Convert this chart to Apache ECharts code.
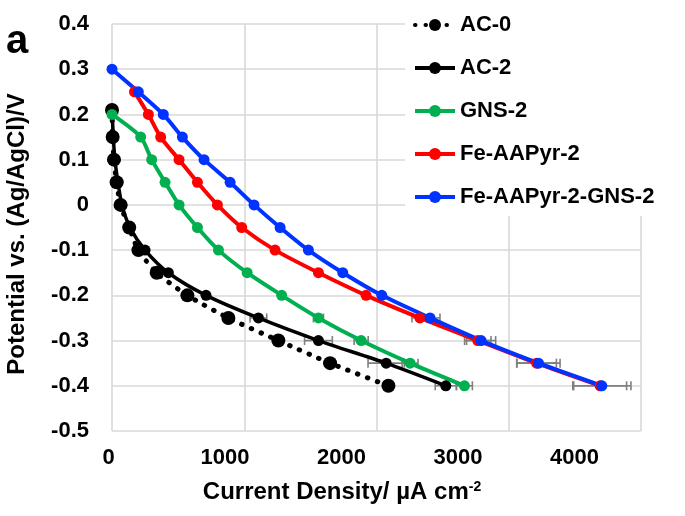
<!DOCTYPE html>
<html><head><meta charset="utf-8">
<script src="https://cdn.jsdelivr.net/npm/echarts@6/dist/echarts.min.js"></script>
<style>html,body{margin:0;padding:0;background:#fff}#c{width:685px;height:516px}</style>
</head><body><div id="c"></div>
<script>
// ---- data ----
const potBlue = [0.3,0.25,0.2,0.15,0.1,0.05,0,-0.05,-0.1,-0.15,-0.2,-0.25,-0.3,-0.35,-0.4];
const curBlue = [0,199,388,532,696,893,1074,1271,1485,1745,2040,2405,2791,3225,3704];
const errBlue = [0,0,0,0,0,0,0,0,0,0,0,75,110,163,220];

const potRed = [0.25,0.2,0.15,0.1,0.05,0,-0.05,-0.1,-0.15,-0.2,-0.25,-0.3,-0.35,-0.4];
const curRed = [170,275,368,507,646,797,981,1233,1561,1921,2328,2766,3210,3691];
const errRed = [0,0,0,0,0,0,0,0,0,0,60,100,150,200];

const potGreen = [0.2,0.15,0.1,0.05,0,-0.05,-0.1,-0.15,-0.2,-0.25,-0.3,-0.35,-0.4];
const curGreen = [0,217,300,401,507,646,805,1022,1283,1561,1884,2254,2665];
const errGreen = [0,0,0,0,0,0,0,0,0,38,53,60,60];

const potAC2 = [0.21,0.15,0.1,0.05,0,-0.05,-0.1,-0.15,-0.2,-0.25,-0.3,-0.35,-0.4];
const curAC2 = [0,10,22,45,75,136,250,426,711,1107,1561,2073,2524];
const errAC2 = [0,0,0,0,0,0,0,0,0,63,105,137,80];

const potAC0 = [0.21,0.15,0.1,0.05,0,-0.05,-0.1,-0.15,-0.2,-0.25,-0.3,-0.35,-0.4];
const curAC0 = [0,5,15,35,65,130,200,338,570,880,1258,1649,2090];

const seriesNames = ['AC-0','AC-2','GNS-2','Fe-AAPyr-2','Fe-AAPyr-2-GNS-2'];
const yTicks = {min:-0.5, max:0.4, interval:0.1};
const xTicks = {min:0, max:4000, interval:1000};

// ---- build ----
const zip = (xs, ys) => xs.map((x,i)=>[x, ys[i]]);
const zipErr = (xs, ys, es) => xs.map((x,i)=>[x, ys[i], es[i]]).filter(d=>d[2]>0);
const FONT = '"Liberation Sans", Arial, sans-serif';
const chart = echarts.init(document.getElementById('c'), null, {renderer:'canvas'});

function errSeries(data){
  return {
    type:'custom', xAxisIndex:0, yAxisIndex:0, z:1, silent:true,
    data:data,
    renderItem:function(params, api){
      const x = api.value(0), y = api.value(1), e = api.value(2);
      const p1 = api.coord([x-e, y]), p2 = api.coord([x+e, y]);
      const st = {stroke:'#7f7f7f', lineWidth:1.6};
      return {type:'group', children:[
        {type:'line', shape:{x1:p1[0],y1:p1[1],x2:p2[0],y2:p2[1]}, style:st},
        {type:'line', shape:{x1:p1[0],y1:p1[1]-4.5,x2:p1[0],y2:p1[1]+4.5}, style:st},
        {type:'line', shape:{x1:p2[0],y1:p2[1]-4.5,x2:p2[0],y2:p2[1]+4.5}, style:st}
      ]};
    }
  };
}

function lineSeries(name, data, color, sym, width, dotted){
  return {
    name:name, type:'line', data:data, xAxisIndex:0, yAxisIndex:0, z:3,
    symbol:'circle', symbolSize:sym, smooth:0.25,
    itemStyle:{color:color},
    lineStyle:dotted ? {color:color, width:width, type:[0.5,10], cap:'round'} : {color:color, width:width},
    emphasis:{disabled:true}
  };
}

const option = {
  animation:false,
  backgroundColor:'#fff',
  grid:[
    {left:112, right:44, top:24, bottom:85, containLabel:false},
    {left:108.5, right:110.5, top:24, bottom:85, containLabel:false}
  ],
  xAxis:[
    {type:'value', gridIndex:0, min:xTicks.min, max:xTicks.max, interval:xTicks.interval,
     axisLine:{show:false}, axisTick:{show:false}, axisLabel:{show:false},
     splitLine:{show:true, lineStyle:{color:'#d9d9d9', width:1.6}}},
    {type:'value', gridIndex:1, min:xTicks.min, max:xTicks.max, interval:xTicks.interval,
     axisLine:{show:false}, axisTick:{show:false}, splitLine:{show:false},
     axisLabel:{show:true, margin:16, fontFamily:FONT, fontWeight:'bold', fontSize:22, color:'#000',
                formatter:function(v){return String(v);}}}
  ],
  yAxis:[
    {type:'value', gridIndex:0, min:yTicks.min, max:yTicks.max, interval:yTicks.interval,
     axisLine:{show:false}, axisTick:{show:false},
     axisLabel:{margin:23, fontFamily:FONT, fontWeight:'bold', fontSize:22, color:'#000'},
     splitLine:{show:true, lineStyle:{color:'#d9d9d9', width:1.6}}},
    {type:'value', gridIndex:1, min:yTicks.min, max:yTicks.max, show:false}
  ],
  legend:{
    data:seriesNames, orient:'vertical', left:405, top:0,
    padding:[14,26,8,8], backgroundColor:'#fff', z:10,
    itemWidth:40, itemHeight:15, itemGap:21, itemStyle:{borderWidth:0},
    lineStyle:{width:4},
    textStyle:{fontFamily:FONT, fontWeight:'bold', fontSize:22, color:'#000', lineHeight:22},
    selectedMode:false
  },
  graphic:[
    {type:'text', left:6, top:22, style:{text:'a', font:'bold 40px '+FONT, fill:'#000'}},
    {type:'text', x:17.5, y:234, rotation:Math.PI/2,
     style:{text:'Potential vs. (Ag/AgCl)/V', font:'bold 24px '+FONT, fill:'#000', align:'center', verticalAlign:'middle'}},
    {type:'text', x:342, y:492,
     style:{text:'Current Density/ µA cm{sup|-2}', font:'bold 24px '+FONT, fill:'#000', align:'center', verticalAlign:'middle',
            rich:{sup:{fontSize:14, fontWeight:'bold', fontFamily:FONT, verticalAlign:'top', padding:[0,0,10,0]}}}}
  ],
  series:[
    errSeries(zipErr(curBlue, potBlue, errBlue)),
    errSeries(zipErr(curRed, potRed, errRed)),
    errSeries(zipErr(curGreen, potGreen, errGreen)),
    errSeries(zipErr(curAC2, potAC2, errAC2)),
    lineSeries('AC-0', zip(curAC0, potAC0), '#000000', 14, 5, true),
    lineSeries('AC-2', zip(curAC2, potAC2), '#000000', 11, 3.5, false),
    lineSeries('GNS-2', zip(curGreen, potGreen), '#00b050', 11, 4, false),
    lineSeries('Fe-AAPyr-2', zip(curRed, potRed), '#ff0000', 11, 4, false),
    lineSeries('Fe-AAPyr-2-GNS-2', zip(curBlue, potBlue), '#0033ff', 11, 4, false)
  ]
};
chart.setOption(option);
</script></body></html>
